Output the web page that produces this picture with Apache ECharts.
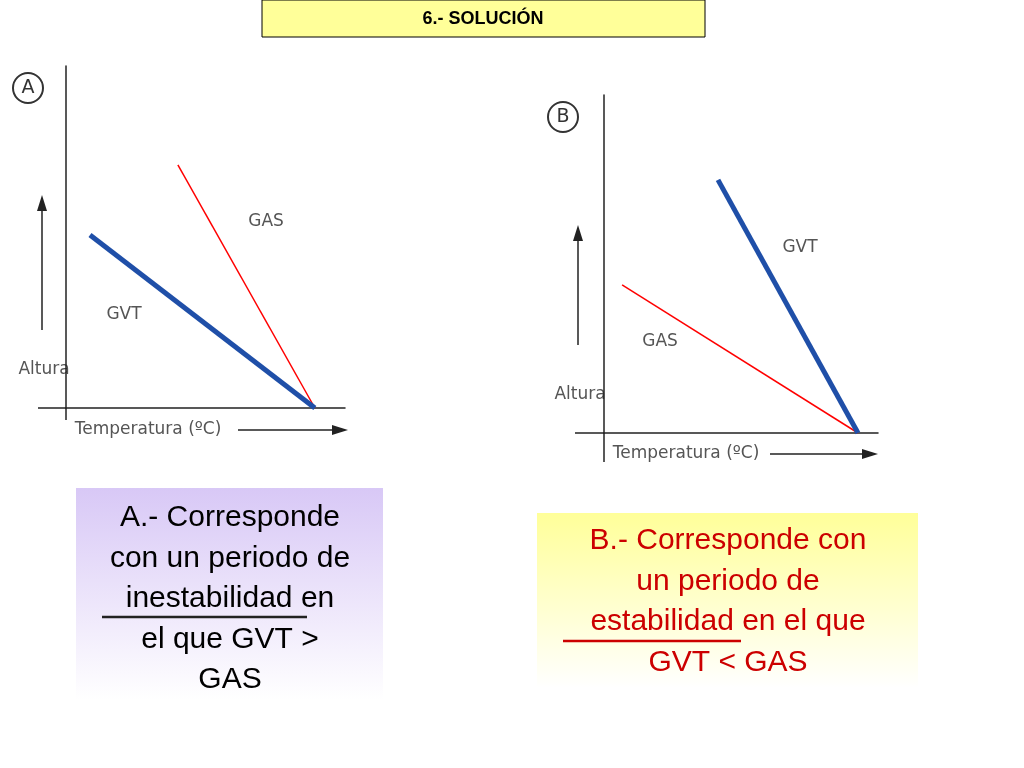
<!DOCTYPE html>
<html><head><meta charset="utf-8">
<script src="https://cdn.jsdelivr.net/npm/echarts@6/dist/echarts.min.js"></script>
<style>html,body{margin:0;padding:0;background:#fff}#c{width:1024px;height:768px}</style>
</head><body><div id="c"></div>
<script>
const gvtA = [[8.6, 50.6], [89.2, 0]];
const gasA = [[40.1, 71.1], [89.2, 0]];
const gvtB = [[41.6, 74.9], [92.7, 0]];
const gasB = [[6.6, 43.8], [92.7, 0]];
const title = "6.- SOLUCIÓN";
const textA = ["A.- Corresponde", "con un periodo de", "inestabilidad en", "el que GVT >", "GAS"];
const textB = ["B.- Corresponde con", "un periodo de", "estabilidad en el que", "GVT < GAS"];

const chart = echarts.init(document.getElementById('c'));
const ax = (i, type) => ({gridIndex: i, type: 'value', min: 0, max: 100, axisLine: {show: true, lineStyle: {color: '#222', width: 1.5}}, axisTick: {show: false}, axisLabel: {show: false}, splitLine: {show: false}});
const lbl = {fontFamily: 'DejaVu Sans', fontSize: 17, fill: '#555'};
const L = (x1,y1,x2,y2,w) => ({type:'line', shape:{x1,y1,x2,y2}, style:{stroke:'#222', lineWidth:w||1.5}});
const arrowH = (x1,x2,y) => [L(x1,y,x2-12,y), {type:'polygon', shape:{points:[[x2,y],[x2-16,y-5],[x2-16,y+5]]}, style:{fill:'#222'}}];
const arrowV = (x,y1,y2) => [L(x,y1,x,y2+12), {type:'polygon', shape:{points:[[x,y2],[x-5,y2+16],[x+5,y2+16]]}, style:{fill:'#222'}}];
const circ = (cx,cy,t) => [{type:'circle', shape:{cx,cy,r:15}, style:{fill:'none', stroke:'#333', lineWidth:2}}, {type:'text', x:cx, y:cy, style:Object.assign({}, lbl, {text:t, fill:'#333', fontSize:19, align:'center', verticalAlign:'middle'})}];
const txt = (x,y,t,o) => ({type:'text', x, y, style:Object.assign({}, lbl, {text:t, align:'center', verticalAlign:'middle'}, o||{})});
const big = {fontFamily:'Liberation Sans', fontSize:30};
const g = [
  {type:'rect', shape:{x:262,y:0,width:443,height:37}, style:{fill:'#ffff99', stroke:'#000', lineWidth:1}},
  txt(483,19,title,{fontFamily:'Liberation Sans', fontWeight:'bold', fontSize:18, fill:'#000'}),
  L(38,408,66,408), L(66,408,66,420),
  L(575,433,604,433), L(604,433,604,462),
  ...circ(28,88,'A'), ...circ(563,117,'B'),
  ...arrowV(42,330,195), ...arrowV(578,345,225),
  txt(44,370,'Altura',{rotation:Math.PI/2}), txt(580,395,'Altura',{rotation:Math.PI/2}),
  txt(148,430,'Temperatura (ºC)'), txt(686,454,'Temperatura (ºC)'),
  ...arrowH(238,348,430), ...arrowH(770,878,454),
  txt(266,222,'GAS'), txt(124,315,'GVT'), txt(800,248,'GVT'), txt(660,342,'GAS'),
  {type:'rect', shape:{x:76,y:488,width:307,height:212}, style:{fill:new echarts.graphic.LinearGradient(0,0,0,1,[{offset:0,color:'#d8c8f6'},{offset:1,color:'#ffffff'}])}},
  {type:'rect', shape:{x:537,y:513,width:381,height:175}, style:{fill:new echarts.graphic.LinearGradient(0,0,0,1,[{offset:0,color:'#ffff99'},{offset:1,color:'#ffffff'}])}}
];
textA.forEach((t,i)=>g.push(txt(230,518+i*40.5,t,Object.assign({fill:'#000'},big))));
g.push(L(102,617,307,617,2.5));
textB.forEach((t,i)=>g.push(txt(728,541+i*40.5,t,Object.assign({fill:'#cc0000'},big))));
g.push({type:'line', shape:{x1:563,y1:641,x2:741,y2:641}, style:{stroke:'#cc0000', lineWidth:2.5}});
chart.setOption({
  animation:false,
  grid:[{left:66,top:66,width:279,height:342},{left:604,top:95,width:274,height:338}],
  xAxis:[ax(0),ax(1)], yAxis:[ax(0),ax(1)],
  series:[
    {type:'line', xAxisIndex:0, yAxisIndex:0, data:gasA, symbol:'none', lineStyle:{color:'#ff0000', width:1.5}},
    {type:'line', xAxisIndex:0, yAxisIndex:0, data:gvtA, symbol:'none', lineStyle:{color:'#1f4fa8', width:5}},
    {type:'line', xAxisIndex:1, yAxisIndex:1, data:gasB, symbol:'none', lineStyle:{color:'#ff0000', width:1.5}},
    {type:'line', xAxisIndex:1, yAxisIndex:1, data:gvtB, symbol:'none', lineStyle:{color:'#1f4fa8', width:5}}
  ],
  graphic:g
});
</script></body></html>
